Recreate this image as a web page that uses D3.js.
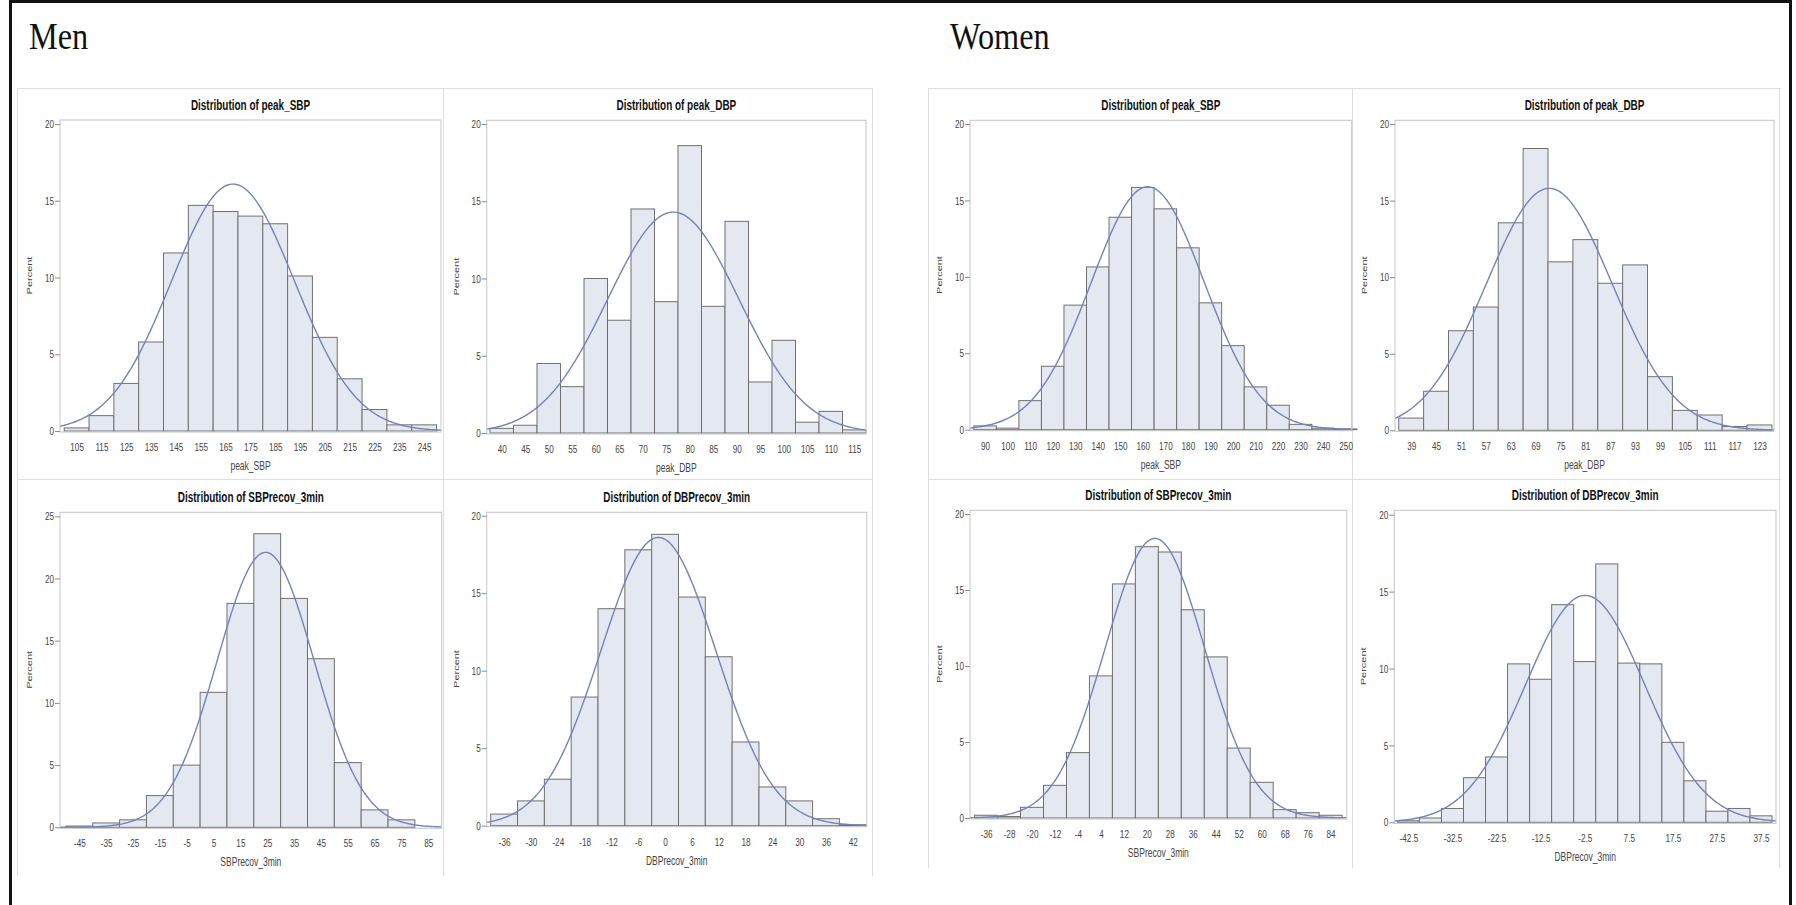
<!DOCTYPE html>
<html>
<head>
<meta charset="utf-8">
<script src="https://cdn.jsdelivr.net/npm/d3@7"></script>
<style>
  body { margin: 0; background: #fff; }
  svg text { font-family: "Liberation Sans", Arial, sans-serif; }
</style>
</head>
<body>
<svg id="chart" width="1796" height="905"></svg>
<script>

/////////////////////////////////
// DATA (bin midpoints, percent per bin, fitted normal, tick labels)
//////////////////////////////////

// Men
var menSbpMid = [105, 115, 125, 135, 145, 155, 165, 175, 185, 195, 205, 215, 225, 235, 245];
var menSbpPct = [0.2, 1.0, 3.1, 5.8, 11.6, 14.7, 14.3, 14.0, 13.5, 10.1, 6.1, 3.4, 1.4, 0.4, 0.4];
var menSbpTicks = [105, 115, 125, 135, 145, 155, 165, 175, 185, 195, 205, 215, 225, 235, 245];

var menDbpMid = [40, 45, 50, 55, 60, 65, 70, 75, 80, 85, 90, 95, 100, 105, 110, 115];
var menDbpPct = [0.3, 0.5, 4.5, 3.0, 10.0, 7.3, 14.5, 8.5, 18.6, 8.2, 13.7, 3.3, 6.0, 0.7, 1.4, 0.2];
var menDbpTicks = [40, 45, 50, 55, 60, 65, 70, 75, 80, 85, 90, 95, 100, 105, 110, 115];

var menSbpRecMid = [-45, -35, -25, -15, -5, 5, 15, 25, 35, 45, 55, 65, 75];
var menSbpRecPct = [0.1, 0.35, 0.6, 2.55, 5.0, 10.85, 18.0, 23.6, 18.4, 13.55, 5.2, 1.4, 0.6];
var menSbpRecTicks = [-45, -35, -25, -15, -5, 5, 15, 25, 35, 45, 55, 65, 75, 85];

var menDbpRecMid = [-36, -30, -24, -18, -12, -6, 0, 6, 12, 18, 24, 30, 36, 42];
var menDbpRecPct = [0.75, 1.6, 3.0, 8.3, 14.0, 17.8, 18.8, 14.75, 10.9, 5.4, 2.5, 1.6, 0.45, 0.06];
var menDbpRecTicks = [-36, -30, -24, -18, -12, -6, 0, 6, 12, 18, 24, 30, 36, 42];

// Women
var womenSbpMid = [90, 100, 110, 120, 130, 140, 150, 160, 170, 180, 190, 200, 210, 220, 230, 240, 250];
var womenSbpPct = [0.25, 0.1, 1.9, 4.15, 8.15, 10.65, 13.9, 15.85, 14.45, 11.9, 8.3, 5.5, 2.8, 1.6, 0.35, 0.1, 0.05];
var womenSbpTicks = [90, 100, 110, 120, 130, 140, 150, 160, 170, 180, 190, 200, 210, 220, 230, 240, 250];

var womenDbpMid = [39, 45, 51, 57, 63, 69, 75, 81, 87, 93, 99, 105, 111, 117, 123];
var womenDbpPct = [0.8, 2.55, 6.5, 8.05, 13.55, 18.4, 11.0, 12.45, 9.6, 10.8, 3.5, 1.3, 1.0, 0.25, 0.35];
var womenDbpTicks = [39, 45, 51, 57, 63, 69, 75, 81, 87, 93, 99, 105, 111, 117, 123];

var womenSbpRecMid = [-36, -28, -20, -12, -4, 4, 12, 20, 28, 36, 44, 52, 60, 68, 76, 84];
var womenSbpRecPct = [0.18, 0.1, 0.7, 2.15, 4.3, 9.35, 15.4, 17.85, 17.5, 13.7, 10.6, 4.6, 2.35, 0.55, 0.35, 0.18];
var womenSbpRecTicks = [-36, -28, -20, -12, -4, 4, 12, 20, 28, 36, 44, 52, 60, 68, 76, 84];

var womenDbpRecMid = [-42.5, -37.5, -32.5, -27.5, -22.5, -17.5, -12.5, -7.5, -2.5, 2.5, 7.5, 12.5, 17.5, 22.5, 27.5, 32.5, 37.5];
var womenDbpRecPct = [0.1, 0.28, 0.9, 2.9, 4.25, 10.3, 9.3, 14.15, 10.45, 16.8, 10.35, 10.3, 5.2, 2.7, 0.72, 0.9, 0.42];
var womenDbpRecTicks = [-42.5, -32.5, -22.5, -12.5, -2.5, 7.5, 17.5, 27.5, 37.5];

// fitted normal curves (mean, std dev), order: peak_SBP, peak_DBP, SBPrecov_3min, DBPrecov_3min
var menFitMean = [168, 76.5, 24.4, -1.5];
var menFitSd = [24.8, 13.95, 18.05, 12.87];
var womenFitMean = [162.2, 72.3, 22.8, -2.4];
var womenFitSd = [25.1, 15.15, 17.35, 13.52];

var binWidths = [10, 5, 10, 6];
var womenBinWidths = [10, 6, 8, 5];
var varNames = ["peak_SBP", "peak_DBP", "SBPrecov_3min", "DBPrecov_3min"];

/////////////////////////////////
// LAYOUT
//////////////////////////////////

var SX = 0.71; // the screenshot is squeezed sideways
var svg = d3.select("#chart");

// frame boxes: left, right, top, zero line, y of top tick, x domain
var frames = [
  {left: 60,     right: 441,   top: 120,   zero: 431,   yTopPx: 124,   xDomain: [98.3, 251.8]},
  {left: 486.7,  right: 866,   top: 120.3, zero: 433,   yTopPx: 124,   xDomain: [36.8, 117.5]},
  {left: 60,     right: 441.7, top: 512.3, zero: 827.3, yTopPx: 516.3, xDomain: [-52.2, 90]},
  {left: 486.7,  right: 866.7, top: 512.3, zero: 825.7, yTopPx: 515.7, xDomain: [-39.9, 45.1]},
  {left: 970,    right: 1351.7,top: 120.3, zero: 429.7, yTopPx: 124,   xDomain: [83.3, 252.7]},
  {left: 1395,   right: 1774,  top: 120.3, zero: 430.3, yTopPx: 124,   xDomain: [35.1, 126.5]},
  {left: 970,    right: 1346.7,top: 510.3, zero: 818,   yTopPx: 514,   xDomain: [-41.6, 89.6]},
  {left: 1394.3, right: 1776,  top: 510.3, zero: 822.3, yTopPx: 514.7, xDomain: [-45.7, 40.9]}
];

var panels = [
  {mid: menSbpMid, pct: menSbpPct, ticks: menSbpTicks, yMax: 20},
  {mid: menDbpMid, pct: menDbpPct, ticks: menDbpTicks, yMax: 20},
  {mid: menSbpRecMid, pct: menSbpRecPct, ticks: menSbpRecTicks, yMax: 25},
  {mid: menDbpRecMid, pct: menDbpRecPct, ticks: menDbpRecTicks, yMax: 20},
  {mid: womenSbpMid, pct: womenSbpPct, ticks: womenSbpTicks, yMax: 20},
  {mid: womenDbpMid, pct: womenDbpPct, ticks: womenDbpTicks, yMax: 20},
  {mid: womenSbpRecMid, pct: womenSbpRecPct, ticks: womenSbpRecTicks, yMax: 20},
  {mid: womenDbpRecMid, pct: womenDbpRecPct, ticks: womenDbpRecTicks, yMax: 20}
];
panels.forEach(function(p, i) {
  var k = i % 4;
  p.name = varNames[k];
  p.bw = i < 4 ? binWidths[k] : womenBinWidths[k];
  p.mu = i < 4 ? menFitMean[k] : womenFitMean[k];
  p.sd = i < 4 ? menFitSd[k] : womenFitSd[k];
  Object.assign(p, frames[i]);
});

/////////////////////////////////
// OUTER BORDER, GROUP TITLES, PANEL LINES
//////////////////////////////////

svg.append("rect")
  .attr("x", 10.5).attr("y", 1.5)
  .attr("width", 1780).attr("height", 920)
  .attr("fill", "none").attr("stroke", "#111").attr("stroke-width", 3);

[["Men", 29], ["Women", 950]].forEach(function(t) {
  svg.append("text")
    .attr("transform", "translate(" + t[1] + ",49) scale(0.85,1)")
    .style("font-family", "'Liberation Serif', 'Times New Roman', serif")
    .attr("font-size", 38)
    .attr("fill", "#111")
    .text(t[0]);
});

var gridLines = [
  // men block
  [17, 88.5, 873, 88.5], [17, 479.5, 873, 479.5],
  [17.5, 88, 17.5, 876], [443.5, 88, 443.5, 876], [872.5, 88, 872.5, 876],
  // women block
  [928, 88.5, 1781, 88.5], [928, 479.5, 1781, 479.5],
  [928.5, 88, 928.5, 868], [1352.5, 88, 1352.5, 868], [1779.5, 88, 1779.5, 868]
];
svg.selectAll("line.grid")
  .data(gridLines)
  .enter().append("line")
    .attr("class", "grid")
    .attr("x1", function(d) { return d[0]; })
    .attr("y1", function(d) { return d[1]; })
    .attr("x2", function(d) { return d[2]; })
    .attr("y2", function(d) { return d[3]; })
    .attr("stroke", "#dedede")
    .attr("stroke-width", 1);

/////////////////////////////////
// DRAW EACH HISTOGRAM
//////////////////////////////////

panels.forEach(function(p, i) {

  var g = svg.append("g");
  var x = d3.scaleLinear().domain(p.xDomain).range([p.left, p.right]);
  var y = d3.scaleLinear().domain([0, p.yMax]).range([p.zero, p.yTopPx]);

  var clipId = "clip" + i;
  g.append("clipPath").attr("id", clipId)
    .append("rect")
      .attr("x", p.left).attr("y", p.top)
      .attr("width", p.right - p.left).attr("height", p.zero - p.top + 1);

  // bars
  g.selectAll("rect.bar")
    .data(p.mid)
    .enter().append("rect")
      .attr("class", "bar")
      .attr("x", function(d) { return x(d - p.bw / 2); })
      .attr("width", function(d) { return x(d + p.bw / 2) - x(d - p.bw / 2); })
      .attr("y", function(d, j) { return y(p.pct[j]); })
      .attr("height", function(d, j) { return y(0) - y(p.pct[j]); })
      .attr("fill", "#e3e8f1")
      .attr("stroke", "#707070")
      .attr("stroke-width", 1);

  // fitted normal curve, in percent of a bin
  var xs = d3.range(p.xDomain[0], p.xDomain[1], (p.xDomain[1] - p.xDomain[0]) / 300).concat([p.xDomain[1]]);
  var dens = function(v) {
    var z = (v - p.mu) / p.sd;
    return 100 * p.bw * Math.exp(-0.5 * z * z) / (p.sd * Math.sqrt(2 * Math.PI));
  };
  g.append("path")
    .datum(xs)
    .attr("clip-path", "url(#" + clipId + ")")
    .attr("fill", "none")
    .attr("stroke", "#7482b7")
    .attr("stroke-width", 1.4)
    .attr("d", d3.line().x(function(d) { return x(d); }).y(function(d) { return y(dens(d)); }));

  // frame
  g.append("rect")
    .attr("x", p.left).attr("y", p.top)
    .attr("width", p.right - p.left).attr("height", p.zero + 1 - p.top)
    .attr("fill", "none").attr("stroke", "#c4c4c4").attr("stroke-width", 1);

  // axes
  var xAxis = d3.axisBottom(x).tickValues(p.ticks).tickSize(0).tickPadding(11)
    .tickFormat(function(d) { return String(d); });
  var gx = g.append("g").attr("transform", "translate(0," + (p.zero + 1) + ")").call(xAxis);

  var yAxis = d3.axisLeft(y).tickValues(d3.range(0, p.yMax + 1, 5)).tickSize(5).tickPadding(3.5);
  var gy = g.append("g").attr("transform", "translate(" + p.left + ",0)").call(yAxis);

  [gx, gy].forEach(function(a) {
    a.select(".domain").remove();
    a.selectAll(".tick line").attr("stroke", "#8a8a8a");
    a.selectAll(".tick text")
      .attr("fill", "#444")
      .attr("font-size", 11.5)
      .style("font-family", "'Liberation Sans', Arial, sans-serif")
      .attr("transform", "scale(" + SX + ",1)");
  });

  var cx = (p.left + p.right) / 2;

  // title
  g.append("text")
    .attr("transform", "translate(" + cx + "," + (p.top - 10) + ") scale(" + SX + ",1)")
    .attr("text-anchor", "middle")
    .attr("font-size", 14)
    .attr("font-weight", "bold")
    .attr("fill", "#111")
    .text("Distribution of " + p.name);

  // x label
  g.append("text")
    .attr("transform", "translate(" + cx + "," + (p.zero + 39) + ") scale(" + SX + ",1)")
    .attr("text-anchor", "middle")
    .attr("font-size", 12)
    .attr("fill", "#444")
    .text(p.name);

  // y label
  g.append("text")
    .attr("transform", "translate(" + (p.left - 28) + "," + ((p.top + p.zero) / 2) + ") scale(" + SX + ",1) rotate(-90)")
    .attr("text-anchor", "middle")
    .attr("font-size", 11)
    .attr("fill", "#444")
    .text("Percent");
});

</script>
</body>
</html>
